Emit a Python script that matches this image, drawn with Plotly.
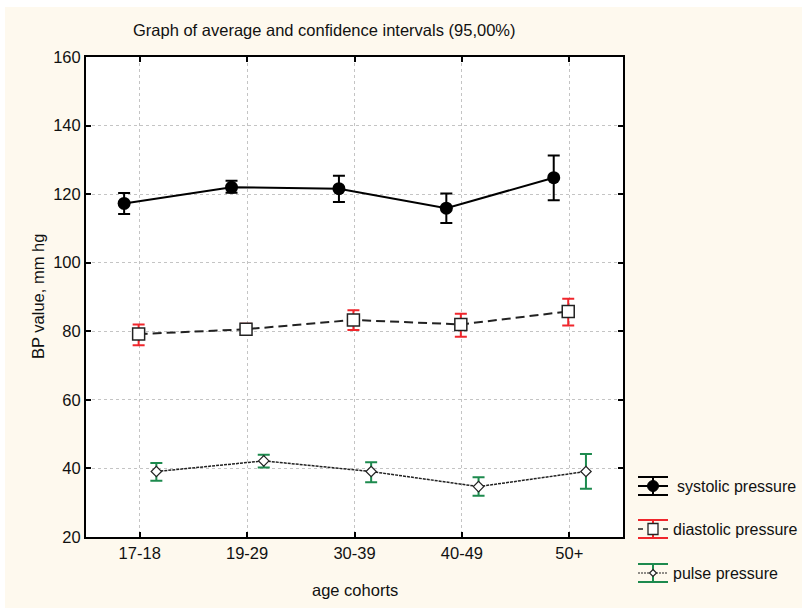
import plotly.graph_objects as go

# Age cohorts on the x axis
cohorts = ["17-18", "19-29", "30-39", "40-49", "50+"]

# Means and 95% confidence limits (mm Hg)
systolic_mean = [117.3, 122.0, 121.6, 115.9, 124.8]
systolic_low = [114.2, 120.4, 117.7, 111.6, 118.2]
systolic_high = [120.3, 123.9, 125.4, 120.2, 131.3]

diastolic_mean = [79.2, 80.6, 83.3, 82.0, 85.8]
diastolic_low = [75.9, 78.9, 80.4, 78.4, 81.7]
diastolic_high = [82.0, 82.2, 86.1, 85.1, 89.5]

pulse_mean = [39.1, 42.2, 39.1, 34.7, 39.1]
pulse_low = [36.4, 40.3, 36.0, 32.0, 34.1]
pulse_high = [41.6, 44.0, 41.8, 37.4, 44.2]

series_names = ["systolic pressure", "diastolic pressure", "pulse pressure"]
y_ticks = [20, 40, 60, 80, 100, 120, 140, 160]

W, H = 802, 608
L, R, T, B = 86, 623, 57, 537  # plot area in pixels
CREAM = "#fef9ee"
INK = "#111111"
RED = "#f0262c"
GREEN = "#1d8a4e"
FONT = "Liberation Sans, Arial, sans-serif"

STYLES = [
    dict(line=dict(color="black", width=2),
         marker=dict(symbol="circle", size=13, color="black"),
         err="black", shift=-0.145),
    dict(line=dict(color="#222", width=2, dash="9px,5px"),
         marker=dict(symbol="square", size=12, color="white",
                     line=dict(color="#222", width=1.5)),
         err=RED, shift=-0.01),
    dict(line=dict(color="#222", width=1.5, dash="3px,1px"),
         marker=dict(symbol="diamond", size=8, color="white",
                     line=dict(color="#222", width=1.2)),
         err=GREEN, shift=0.155),
]

fig = go.Figure()
for name, mean, low, high, st in zip(
        series_names,
        [systolic_mean, diastolic_mean, pulse_mean],
        [systolic_low, diastolic_low, pulse_low],
        [systolic_high, diastolic_high, pulse_high],
        STYLES):
    fig.add_trace(go.Scatter(
        x=[i + st["shift"] for i in range(len(mean))], y=mean,
        name=name, mode="lines+markers",
        line=st["line"], marker=st["marker"],
        error_y=dict(type="data", symmetric=False,
                     array=[h - m for h, m in zip(high, mean)],
                     arrayminus=[m - l for m, l in zip(mean, low)],
                     color=st["err"], thickness=2, width=6),
        showlegend=False,
    ))

axis_common = dict(
    showline=True, linecolor="black", linewidth=2, mirror="ticks",
    ticks="inside", ticklen=5, tickwidth=1.5, tickcolor="black",
    showgrid=True, gridcolor="#c4c4c4", griddash="dot", gridwidth=1,
    zeroline=False,
    tickfont=dict(family=FONT, size=16.5, color=INK),
)
fig.update_xaxes(range=[-0.5, len(cohorts) - 0.5],
                 tickvals=list(range(len(cohorts))), ticktext=cohorts,
                 **axis_common)
fig.update_yaxes(range=[20, 160], tickvals=y_ticks, **axis_common)


def px(x):
    return (x - L) / (R - L)


def py(y):
    return (B - y) / (B - T)


def hline(x0, x1, y, color, width=2, dash=None):
    d = dict(type="line", xref="paper", yref="paper",
             x0=px(x0), x1=px(x1), y0=py(y), y1=py(y),
             line=dict(color=color, width=width))
    if dash:
        d["line"]["dash"] = dash
    return d


shapes = [
    # thin white border strips along the top and left edges
    dict(type="rect", xref="paper", yref="paper", x0=px(0), x1=px(W),
         y0=py(7), y1=py(0), fillcolor="white", line_width=0, layer="above"),
    dict(type="rect", xref="paper", yref="paper", x0=px(0), x1=px(5),
         y0=py(H), y1=py(0), fillcolor="white", line_width=0, layer="above"),
]
annotations = [
    dict(text="Graph of average and confidence intervals (95,00%)",
         x=px(324), y=py(30), font=dict(family=FONT, size=16.5, color=INK)),
    dict(text="age cohorts", x=px(355), y=py(590),
         font=dict(family=FONT, size=16.5, color=INK)),
    dict(text="BP value, mm hg", x=px(38), y=py(297), textangle=-90,
         font=dict(family=FONT, size=16.5, color=INK)),
]

# Legend: key symbol with error-bar caps, followed by the series label
key_x0, key_x1, key_cx = 638, 668, 653
key_rows = [486, 529, 573]
text_x = [675, 671, 671]
for i, (name, st, cy) in enumerate(zip(series_names, STYLES, key_rows)):
    err = st["err"]
    shapes.append(hline(key_x0, key_x1, cy - 9, err))
    shapes.append(hline(key_x0, key_x1, cy + 9, err))
    shapes.append(dict(type="line", xref="paper", yref="paper",
                       x0=px(key_cx), x1=px(key_cx), y0=py(cy - 9), y1=py(cy + 9),
                       line=dict(color=err, width=2)))
    if i == 0:
        shapes.append(hline(key_x0, key_x1, cy, "black", 2))
        shapes.append(dict(type="circle", xref="paper", yref="paper",
                           x0=px(key_cx - 5.5), x1=px(key_cx + 5.5),
                           y0=py(cy + 5.5), y1=py(cy - 5.5),
                           fillcolor="black", line=dict(color="black", width=1)))
    elif i == 1:
        shapes.append(hline(key_x0, key_x0 + 5, cy, "#222", 1.5))
        shapes.append(hline(key_x1 - 5, key_x1, cy, "#222", 1.5))
        shapes.append(dict(type="rect", xref="paper", yref="paper",
                           x0=px(key_cx - 5), x1=px(key_cx + 5),
                           y0=py(cy + 5.5), y1=py(cy - 5.5),
                           fillcolor="white", line=dict(color="#222", width=1.3)))
    else:
        shapes.append(hline(key_x0, key_x1, cy, "#222", 1.2, "2px,1px"))
        d = 3.5
        path = (f"M {px(key_cx)},{py(cy - d)} L {px(key_cx + d)},{py(cy)} "
                f"L {px(key_cx)},{py(cy + d)} L {px(key_cx - d)},{py(cy)} Z")
        shapes.append(dict(type="path", xref="paper", yref="paper", path=path,
                           fillcolor="white", line=dict(color="#222", width=1.2)))
    annotations.append(dict(text=name, x=px(text_x[i]), y=py(cy), xanchor="left",
                            font=dict(family=FONT, size=16, color=INK)))

for a in annotations:
    a.setdefault("xref", "paper")
    a.setdefault("yref", "paper")
    a.setdefault("xanchor", "center")
    a.setdefault("yanchor", "middle")
    a["showarrow"] = False

fig.update_layout(
    width=W, height=H,
    margin=dict(l=L, r=W - R, t=T, b=H - B, pad=0),
    paper_bgcolor=CREAM, plot_bgcolor="white",
    font=dict(family=FONT, color=INK),
    showlegend=False,
    shapes=shapes, annotations=annotations,
)

fig.write_html("out.html")
